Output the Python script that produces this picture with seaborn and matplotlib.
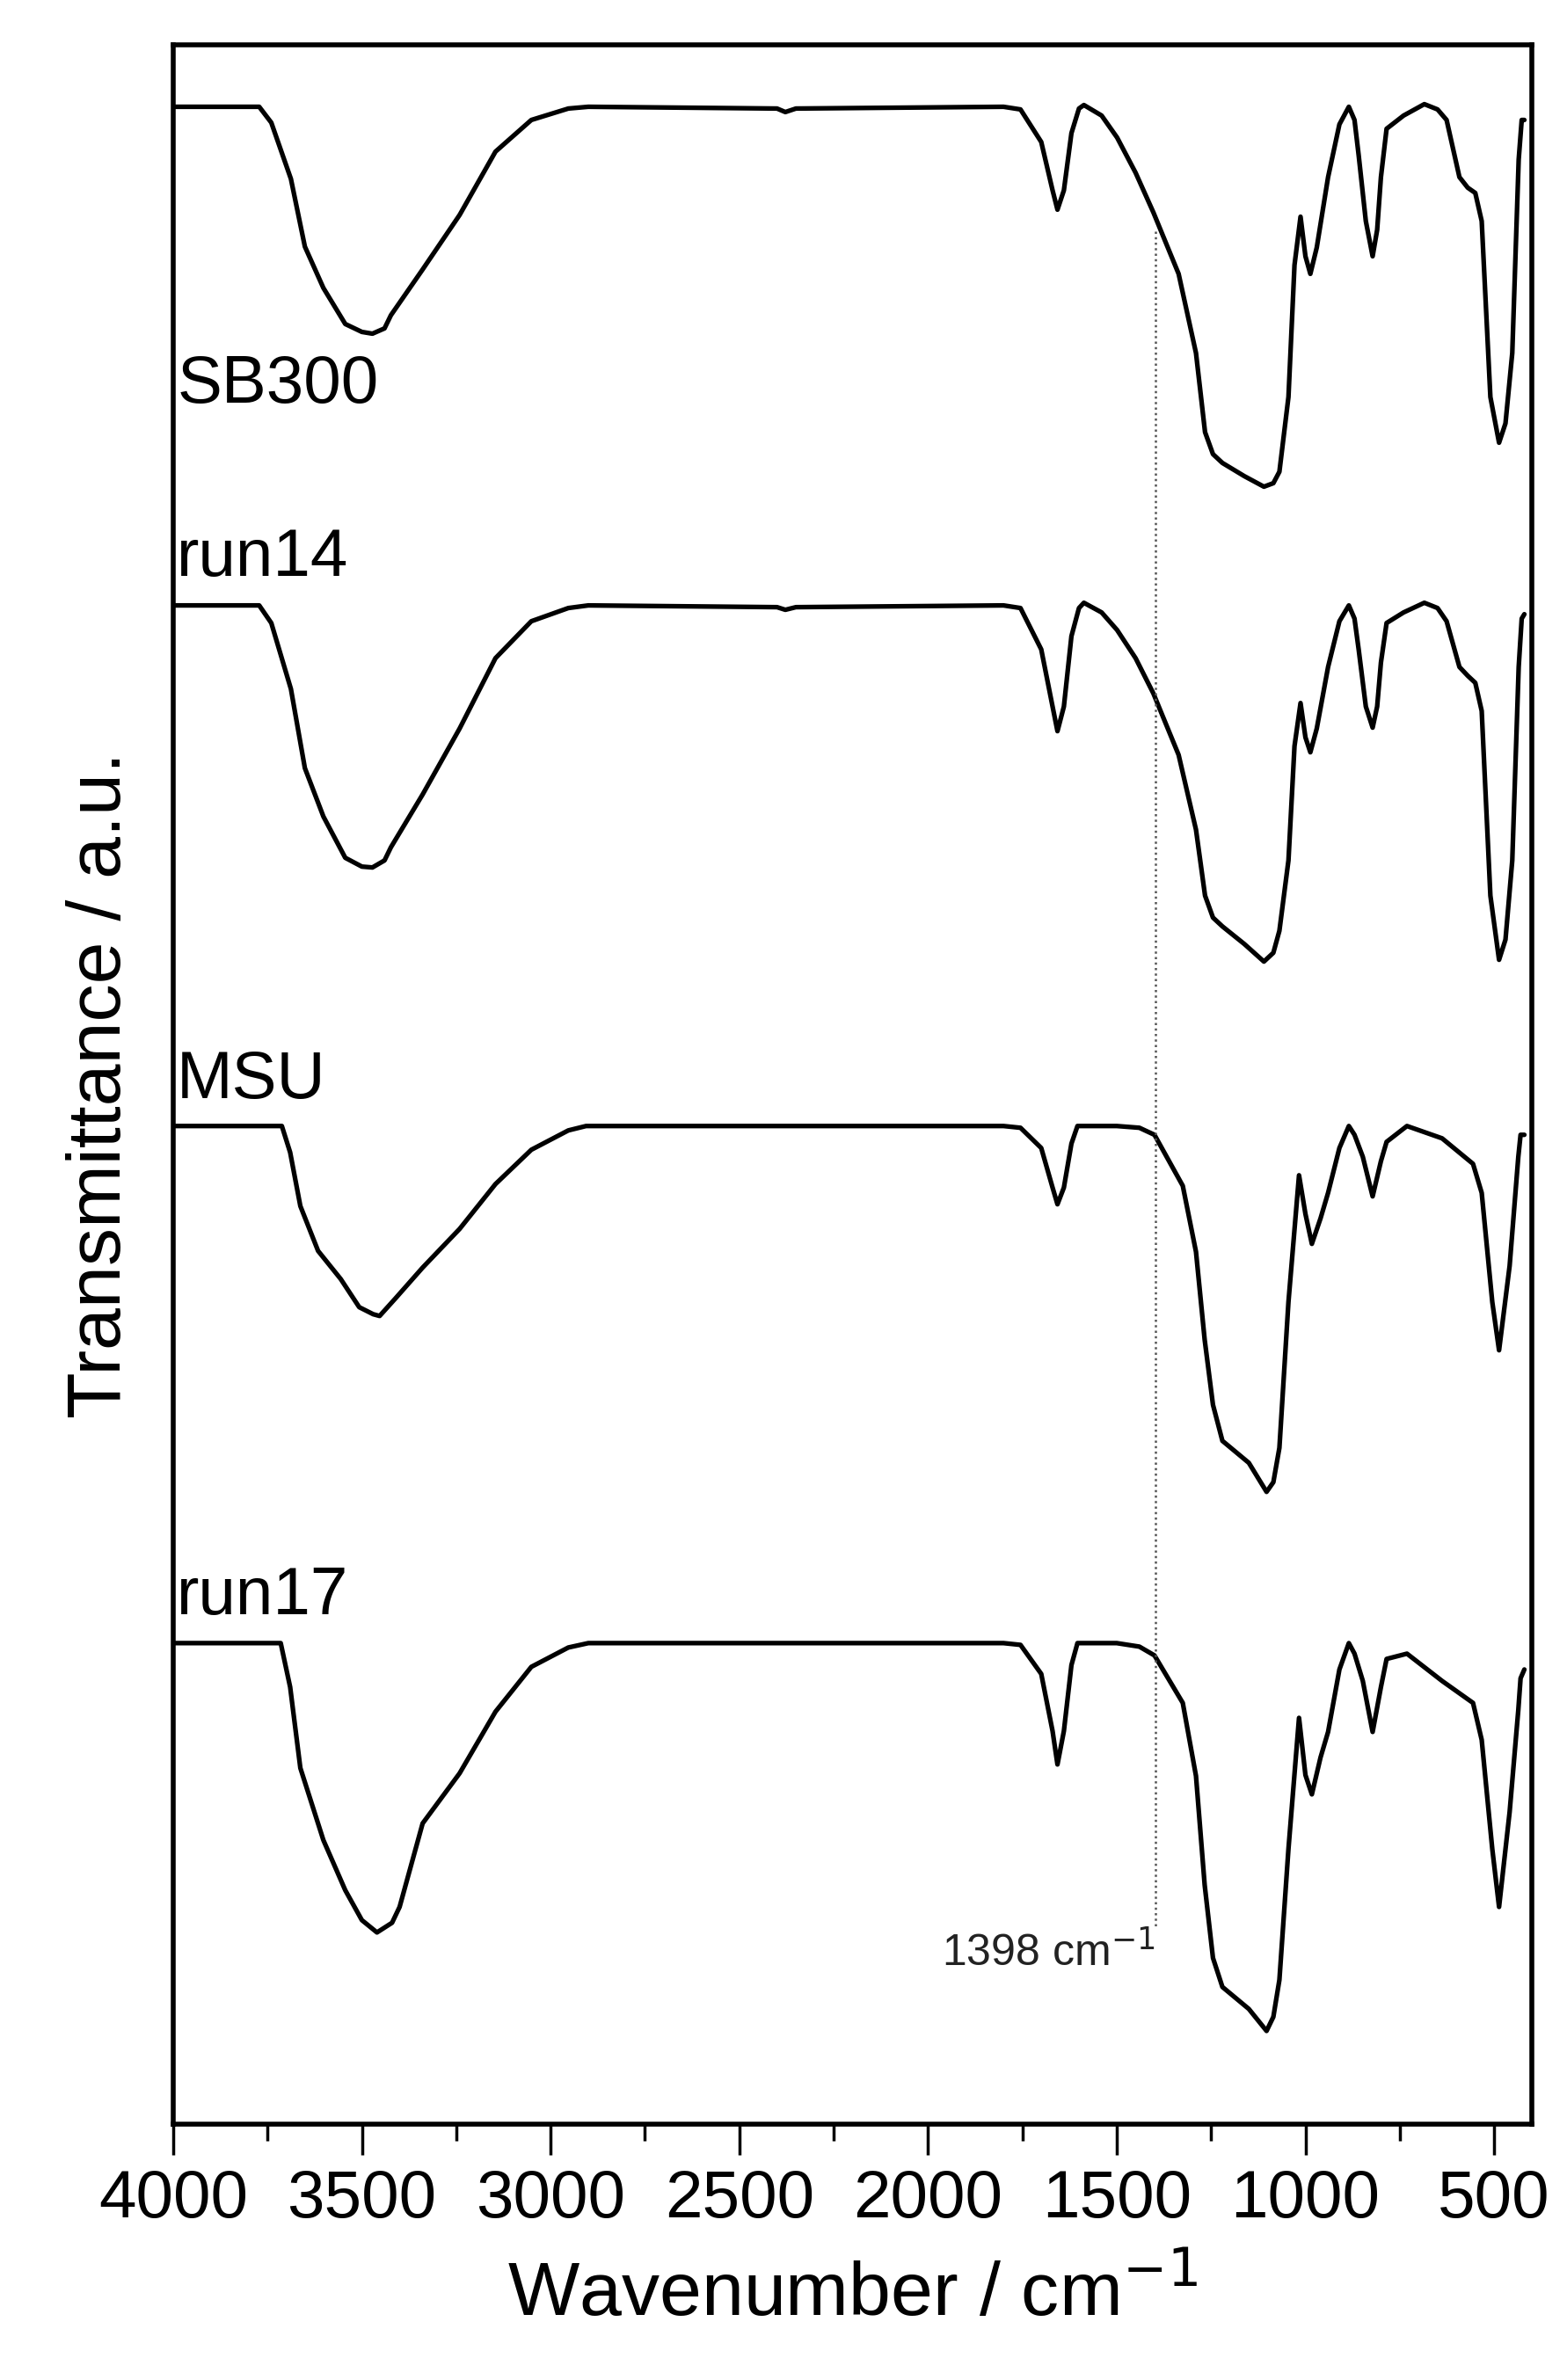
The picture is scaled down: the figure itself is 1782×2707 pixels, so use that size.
import matplotlib
matplotlib.use("Agg")
import matplotlib.pyplot as plt
import seaborn as sns
import pandas as pd
from matplotlib.ticker import MultipleLocator

sns.set_theme(style="ticks")
plt.rcParams['font.family'] = ['Liberation Sans', 'DejaVu Sans']
plt.rcParams['text.color'] = 'black'
plt.rcParams['axes.labelcolor'] = 'black'
plt.rcParams['xtick.color'] = 'black'

# wavenumbers (cm-1) and absorption depth (arbitrary units, below each baseline)
wn_sb300 = [4000,3850,3772,3740,3688,3651,3602,3544,3500,3472,3440,3423,3339,3241,3146,3051,2953,2900,2400,2378,2350,1800,1755,1700,1670,1657,1640,1620,1600,1587,1540,1499,1450,1403,1336,1290,1266,1245,1220,1162,1110,1085,1069,1045,1029,1013,1000,987,970,940,910,885,870,859,840,822,810,800,785,740,685,650,626,592,570,550,533,510,487,470,452,435,427,420]
d_sb300 = [0,0,0,18,82,159,206,247,256,258,252,237,185,123,51,15,2,0,2,6,2,0,3,40,95,117,95,30,2,-2,10,35,75,120,190,280,370,395,405,420,432,428,415,330,180,125,170,190,160,80,20,0,15,55,130,170,140,80,25,10,-3,3,15,80,92,98,130,330,382,360,280,60,15,15]

wn_run14 = [4000,3850,3772,3740,3688,3651,3602,3544,3500,3472,3440,3423,3339,3241,3146,3051,2953,2900,2400,2378,2350,1800,1755,1700,1670,1657,1640,1620,1600,1587,1540,1499,1450,1403,1336,1290,1266,1245,1220,1162,1110,1085,1069,1045,1029,1013,1000,987,970,940,910,885,870,859,840,822,810,800,785,740,685,650,626,592,570,550,533,510,487,470,452,435,427,420]
d_run14 = [0,0,0,20,95,185,240,287,297,298,290,275,215,140,60,18,3,0,2,5,2,0,3,50,115,143,115,35,3,-3,8,28,60,100,170,255,330,355,365,385,405,395,370,290,160,111,150,167,140,70,18,0,15,50,115,139,115,65,20,8,-3,3,18,70,80,88,120,330,403,380,290,70,15,10]

wn_msu = [4000,3850,3740,3712,3690,3663,3616,3556,3507,3470,3453,3411,3339,3241,3146,3051,2953,2906,2400,1800,1755,1700,1670,1657,1640,1620,1604,1500,1440,1400,1325,1290,1267,1245,1220,1150,1103,1085,1069,1045,1017,1000,983,960,940,910,885,870,848,822,800,785,731,638,556,533,505,487,459,436,430,420]
d_msu = [0,0,0,0,30,91,142,174,206,214,216,196,161,117,66,27,5,0,0,0,2,25,70,89,70,20,0,0,2,10,68,143,243,317,358,383,416,405,366,200,56,100,134,105,76,25,0,10,35,80,40,18,0,14,43,76,200,255,159,35,10,10]

wn_run17 = [4000,3850,3740,3715,3690,3663,3602,3544,3500,3460,3420,3400,3339,3241,3146,3051,2953,2900,2400,1800,1755,1700,1670,1657,1640,1620,1604,1500,1440,1400,1325,1290,1267,1245,1220,1150,1103,1085,1069,1045,1017,1000,983,960,940,910,885,870,848,822,800,785,731,638,556,533,505,487,459,436,430,420]
d_run17 = [0,0,0,0,50,142,224,281,315,329,318,300,205,148,78,27,5,0,0,0,2,35,100,138,100,25,0,0,4,14,68,151,275,358,391,416,441,425,383,234,85,150,172,130,101,30,0,12,43,101,50,18,12,43,68,110,234,300,192,76,40,30]

names = ["SB300", "run14", "MSU", "run17"]
wns = [wn_sb300, wn_run14, wn_msu, wn_run17]
depths = [d_sb300, d_run14, d_msu, d_run17]
offsets = [122, 689, 1281, 1869]
label_y = [458, 655, 1249, 1836]

frames = []
for n, w, d, o in zip(names, wns, depths, offsets):
    frames.append(pd.DataFrame({"wn": w, "T": [-(o + v) for v in d], "sample": n}))
df = pd.concat(frames, ignore_index=True)

fig = plt.figure(figsize=(17.82, 27.07), dpi=100)
ax = fig.add_axes([0.1105, 0.1075, 0.9776 - 0.1105, 0.981 - 0.1075])

sns.lineplot(data=df, x="wn", y="T", units="sample", estimator=None, sort=False,
             color="black", linewidth=3.8, ax=ax, legend=False)
for l in ax.lines:
    l.set_solid_joinstyle("round")

ax.plot([1398, 1398], [-264, -2191], linestyle=(0, (1, 1.5)), color="#555555", linewidth=1.8)
ax.text(1398, -2236, "1398 cm$^{-1}$", fontsize=36, ha="right", va="baseline", color="#222222")

for n, ly in zip(names, label_y):
    ax.text(3990, -ly, n, fontsize=55, ha="left", va="baseline", color="black")

ax.set_xlim(4000, 400)
ax.set_ylim(-2416, -52)
ax.xaxis.set_major_locator(MultipleLocator(500))
ax.xaxis.set_minor_locator(MultipleLocator(250))
ax.set_yticks([])
ax.tick_params(axis="x", which="major", length=25, width=2.5, labelsize=55, pad=12, direction="out")
ax.tick_params(axis="x", which="minor", length=14, width=2.5, direction="out")
for s in ax.spines.values():
    s.set_linewidth(4)
    s.set_color("black")
ax.set_xlabel("Wavenumber / cm$^{-1}$", fontsize=62, labelpad=22)
ax.set_ylabel("Transmittance / a.u.", fontsize=62, labelpad=30)

fig.savefig("out.png", dpi=100, facecolor="white")
